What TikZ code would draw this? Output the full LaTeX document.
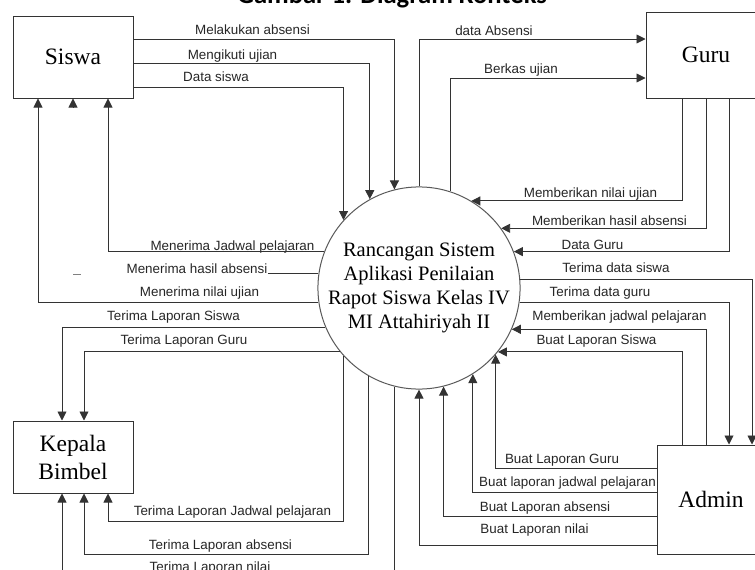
\documentclass[tikz,border=0pt]{standalone}
\usepackage{fontspec}
\setmainfont{Liberation Serif}
\newfontfamily\arialfont{Liberation Sans}
\newfontfamily\titlefont{Carlito}
\usetikzlibrary{arrows.meta}
\begin{document}
\begin{tikzpicture}[
    x=1pt, y=-1pt,
    box/.style={rectangle, draw=black!80, line width=1pt, align=center, inner sep=0pt, font=\fontsize{23.5}{28}\selectfont},
    proses/.style={circle, draw=black!65, line width=1pt, minimum size=190pt, inner sep=0pt, align=center, font=\fontsize{20.5}{24}\selectfont},
    arrow/.style={-{Triangle[length=9pt,width=9pt]}, draw=black!80, line width=0.9pt},
    flow/.style={draw=black!80, line width=0.9pt},
    teks/.style={anchor=base, inner sep=0pt, font=\arialfont\fontsize{13.4}{16}\selectfont, text=black!85}
]
    \useasboundingbox (0,0) rectangle (755,570);

    % Judul
    \node[anchor=base, inner sep=0pt, font=\titlefont\bfseries\fontsize{26.6}{30}\selectfont] (judul) at (392,3.5) {Gambar 1. Diagram Konteks};

    % Entitas dan proses
    \node[box, minimum width=120pt, minimum height=82pt] (siswa) at (73,57) {Siswa};
    \node[box, minimum width=120pt, minimum height=86pt] (guru) at (706,55) {Guru};
    \node[box, minimum width=120pt, minimum height=72pt] (kepala) at (73,457) {Kepala\\Bimbel};
    \node[box, minimum width=108pt, minimum height=109pt] (admin) at (711,499.5) {Admin};
    \node[proses] (sistem) at (419,288) {Rancangan Sistem\\Aplikasi Penilaian\\Rapot Siswa Kelas IV\\MI Attahiriyah II};

    % Siswa ke sistem
    \node[teks] (melakukan) at (252.5,34.5) {Melakukan absensi};
    \node[teks] (mengikuti) at (232.5,59) {Mengikuti ujian};
    \node[teks] (datasiswa) at (216,81.3) {Data siswa};
    \draw[arrow] (siswa.east |- 0,39) -| (sistem.104.6);
    \draw[arrow] (siswa.east |- 0,63) -| (sistem.119.7);
    \draw[arrow] (siswa.east |- 0,87) -| (sistem.138.4);

    % Sistem ke Guru
    \node[teks] (dataabsensi) at (494,35.6) {data Absensi};
    \node[teks] (berkas) at (521,73) {Berkas ujian};
    \draw[arrow] (sistem.90) |- (guru.west |- 0,39);
    \draw[arrow] (sistem.72.2) |- (guru.west |- 0,78);

    % Guru ke sistem
    \node[teks] (nilaiujian) at (590.5,197) {Memberikan nilai ujian};
    \node[teks] (hasilabsensi) at (609.5,225.6) {Memberikan hasil absensi};
    \node[teks] (dataguru) at (592.5,249) {Data Guru};
    \draw[arrow] (guru.south -| 682,0) |- (sistem.59.7);
    \draw[arrow] (guru.south -| 706,0) |- (sistem.36.9);
    \draw[arrow] (guru.south -| 729,0) |- (sistem.21);

    % Sistem ke Admin
    \node[teks] (terimasiswa) at (616,272.3) {Terima data siswa};
    \node[teks] (terimaguru) at (600,296.3) {Terima data guru};
    \draw[arrow] (sistem.5.4) -| (admin.north -| 752,0);
    \draw[arrow] (sistem.-8.5) -| (admin.north -| 729,0);

    % Admin ke sistem
    \node[teks] (jadwal) at (619.5,320.3) {Memberikan jadwal pelajaran};
    \node[teks] (lapsiswa) at (596.5,344) {Buat Laporan Siswa};
    \node[teks] (lapguru) at (562,463) {Buat Laporan Guru};
    \node[teks] (lapjadwal) at (567.5,486.3) {Buat laporan jadwal pelajaran};
    \node[teks] (lapabsensi) at (545,511.3) {Buat Laporan absensi};
    \node[teks] (lapnilai) at (534.5,533.6) {Buat Laporan nilai};
    \draw[arrow] (admin.north -| 706,0) |- (sistem.-24.2);
    \draw[arrow] (admin.north -| 682,0) |- (sistem.-39.9);
    \draw[arrow] (admin.west |- 0,468) -| (sistem.-41.6);
    \draw[arrow] (admin.west |- 0,492) -| (sistem.-58.9);
    \draw[arrow] (admin.west |- 0,516) -| (sistem.-76);
    \draw[arrow] (admin.west |- 0,545) -| (sistem.-90);

    % Sistem ke Siswa
    \node[teks] (menjadwal) at (232.5,250.3) {Menerima Jadwal pelajaran};
    \node[teks] (menhasil) at (197,273.6) {Menerima hasil absensi};
    \node[teks] (mennilai) at (199.5,296.3) {Menerima nilai ujian};
    \draw[arrow] (sistem.159) -| (siswa.south -| 108,0);
    \draw[arrow] (sistem.188.5) -| (siswa.south -| 38,0);
    \draw[flow] (sistem.172.1) -- (menhasil.east |- sistem.172.1);
    \draw[arrow] (73,107) -- (siswa.south -| 73,0);
    \draw[black!50, line width=1pt] (73,274) -- (81,274);

    % Sistem ke Kepala Bimbel
    \node[teks] (tlsiswa) at (173.5,320.3) {Terima Laporan Siswa};
    \node[teks] (tlguru) at (184,344) {Terima Laporan Guru};
    \node[teks] (tljadwal) at (232.5,515.6) {Terima Laporan Jadwal pelajaran};
    \node[teks] (tlabsensi) at (220.5,549) {Terima Laporan absensi};
    \node[teks] (tlnilai) at (210,571.3) {Terima Laporan nilai};
    \draw[arrow] (sistem.203.6) -| (kepala.north -| 62,0);
    \draw[arrow] (sistem.219.9) -| (kepala.north -| 84,0);
    \draw[arrow] (sistem.-138.4) |- (108,521) -- (kepala.south -| 108,0);
    \draw[arrow] (sistem.-120.3) |- (84,554) -- (kepala.south -| 84,0);
    \draw[arrow] (sistem.-104) |- (62,578) -- (kepala.south -| 62,0);
\end{tikzpicture}
\end{document}
